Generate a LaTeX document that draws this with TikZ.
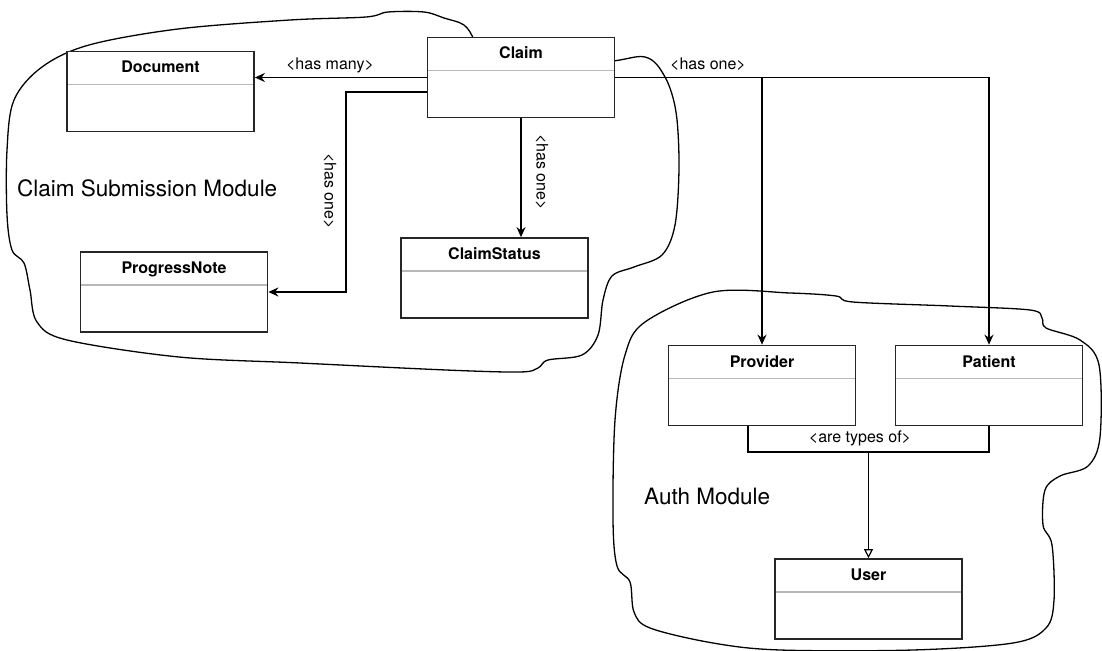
\documentclass[tikz,border=0pt]{standalone}
\usepackage{fontspec}
\setmainfont{TeX Gyre Heros}
\usetikzlibrary{arrows.meta,positioning}

\begin{document}
\begin{tikzpicture}[x=1pt, y=-1pt,
  umlclass/.style={rectangle, draw=black!85, fill=white, line width=1.7pt,
             minimum width=187pt, inner xsep=0pt, inner ysep=0pt,
             text height=21.5pt, text depth=58.5pt,
             font=\fontsize{16}{18}\selectfont\bfseries,
             path picture={\draw[black!28, line width=1.2pt]
               ([yshift=-33pt]path picture bounding box.north west) --
               ([yshift=-33pt]path picture bounding box.north east);}},
  assoc/.style={-{Stealth[length=10pt, width=9pt]}, line width=1.7pt},
  gen/.style={line width=1.2pt},
  genarr/.style={-{Triangle[open, length=9pt, width=9pt]}, line width=1.2pt},
  cloud/.style={line width=1.3pt, smooth cycle, tension=0.55},
  lbl/.style={font=\fontsize{16}{18}\selectfont, inner sep=1pt},
  modname/.style={font=\fontsize{22.5}{26}\selectfont, anchor=west, inner sep=0pt}
]

\fill[white] (0,0) rectangle (1102,650);
\useasboundingbox (0,0) rectangle (1102,650);

% ── Module outlines ───────────────────
\draw[cloud] plot coordinates {
  (480,62) (600,62) (645,57) (665,77) (676,112) (679,167) (675,225)
  (662,255) (634,267) (612,276) (603,300) (598,335) (582,355)
  (548,360) (538,368) (520,372) (446,370) (300,363) (179,357) (67,340)
  (37,322) (30,290) (24,263) (12,250) (7,215) (7,150) (14,100) (42,67)
  (89,45) (178,29) (290,20) (366,17) (388,12) (424,12) (444,18)
  (464,25) (474,40)};
\draw[cloud] plot coordinates {
  (713,292) (790,293) (836,296) (853,302) (950,306) (1030,310)
  (1042,318) (1046,328) (1080,340) (1099,365) (1100,437) (1088,466)
  (1060,476) (1045,490) (1043,525) (1052,545) (1054,600) (1046,628)
  (1013,643) (913,650) (780,650) (713,643) (650,628) (634,612)
  (630,582) (617,566) (613,520) (615,420) (625,355) (645,322)};

\node[modname] (csm) at (17,188) {Claim Submission Module};
\node[modname] (am) at (644,496) {Auth Module};

% ── Classes ───────────────────────────
\node[umlclass] (claim)    at (521,77.5)  {Claim};
\node[umlclass] (document) at (160.5,91.5) {Document};
\node[umlclass] (progress) at (174,292)   {ProgressNote};
\node[umlclass] (status)   at (494.5,278) {ClaimStatus};
\node[umlclass] (provider) at (762,385.5) {Provider};
\node[umlclass] (patient)  at (989,385.5) {Patient};
\node[umlclass] (user)     at (868.5,599) {User};

% ── Associations ──────────────────────
\draw[assoc] (claim.west) -- (claim.west -| document.east);
\node[lbl] (lmany) at (330,65) {<has many>};

\draw[assoc] ([yshift=-14.5pt]claim.west) -- ++(-81,0) |- (progress.east);
\node[lbl, rotate=-90] (lnote) at (330,191) {<has one>};

\draw[assoc] (claim.south) -- (claim.south |- status.north);
\node[lbl, rotate=-90] (lstatus) at (542,172) {<has one>};

\draw[assoc] (claim.east) -| (patient.north);
\draw[assoc] (claim.east -| provider.north) -- (provider.north);
\node[lbl] (lone) at (708,64) {<has one>};

% ── Generalisation ────────────────────
\coordinate (join) at (868.5,452);
\draw[gen] ([xshift=-14pt]provider.south) |- (join) -| (patient.south);
\node[lbl] (ltypes) at (860,438) {<are types of>};
\draw[genarr] (join) -- (user.north);

\end{tikzpicture}
\end{document}
